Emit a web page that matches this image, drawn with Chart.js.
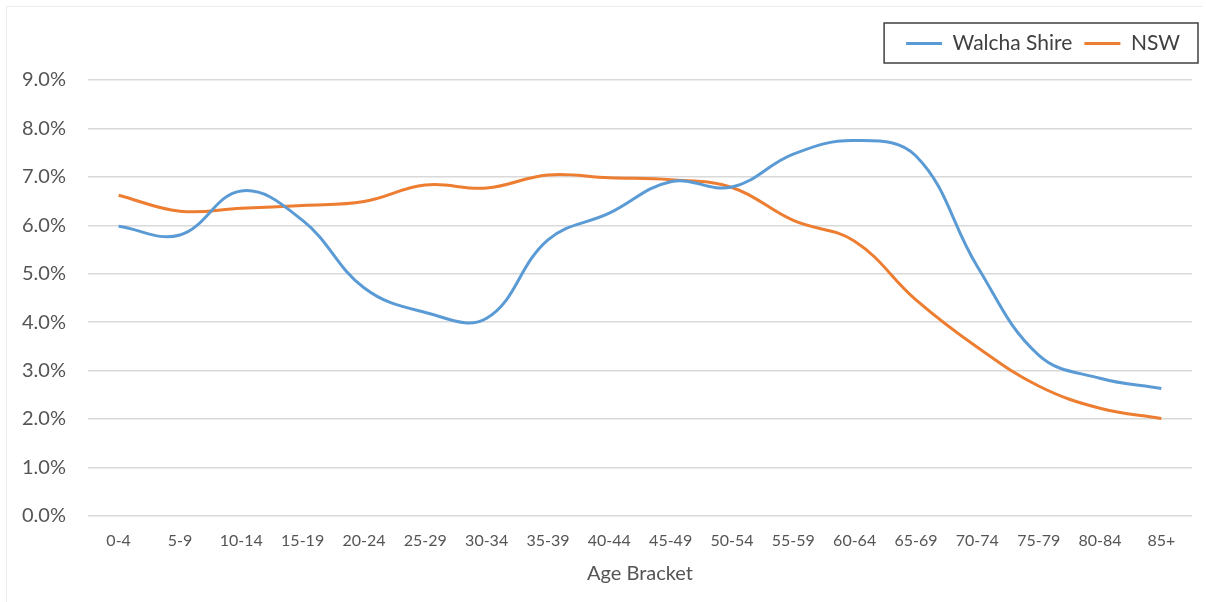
<!DOCTYPE html>
<html lang="en">
  <head>
    <meta charset="UTF-8" />
    <title>Age profile - Walcha Shire vs NSW</title>
    <script src="https://cdn.jsdelivr.net/npm/chart.js"></script>
    <style>
      html,
      body {
        margin: 0;
        padding: 0;
        background: #ffffff;
      }
      .moldura {
        position: relative;
        width: 1206px;
        height: 602px;
      }
      .moldura .borda {
        position: absolute;
        left: 6px;
        top: 6px;
        right: 4px;
        bottom: 0;
        border-top: 1px solid #ececec;
        border-left: 1px solid #ececec;
        pointer-events: none;
      }
    </style>
  </head>
  <body>
    <div class="moldura">
      <canvas id="graficoIdade" width="1206" height="602"></canvas>
      <div class="borda"></div>
    </div>

    <script>
      // faixas etárias e percentuais da população (%)
      var faixas = [
        "0-4", "5-9", "10-14", "15-19", "20-24", "25-29", "30-34", "35-39", "40-44",
        "45-49", "50-54", "55-59", "60-64", "65-69", "70-74", "75-79", "80-84", "85+",
      ];
      var walcha = [
        5.98, 5.8, 6.71, 6.1, 4.71, 4.2, 4.08, 5.7, 6.25,
        6.9, 6.79, 7.47, 7.75, 7.43, 5.15, 3.32, 2.84, 2.63,
      ];
      var nsw = [
        6.62, 6.29, 6.35, 6.41, 6.49, 6.83, 6.77, 7.04, 6.98,
        6.94, 6.78, 6.1, 5.67, 4.46, 3.48, 2.68, 2.22, 2.01,
      ];
      var ticksY = [0, 1, 2, 3, 4, 5, 6, 7, 8, 9];

      var corTexto = "#555555";
      var fonte = "Lato, 'Open Sans', sans-serif";

      // espaço extra entre a legenda e o gráfico + moldura da legenda
      var bordaLegenda = {
        id: "bordaLegenda",
        afterInit: function (chart) {
          var legenda = chart.legend;
          if (!legenda) return;
          var fitOriginal = legenda.fit;
          legenda.fit = function () {
            fitOriginal.call(this);
            this.height += 16;
          };
        },
        afterDraw: function (chart) {
          var caixas = chart.legend && chart.legend.legendHitBoxes;
          if (!caixas || !caixas.length) return;
          var primeira = caixas[0];
          var ultima = caixas[caixas.length - 1];
          var x0 = primeira.left - 22;
          var x1 = ultima.left + ultima.width + 18;
          var y0 = primeira.top - 10;
          var y1 = primeira.top + primeira.height + 9;
          var ctx = chart.ctx;
          ctx.save();
          ctx.strokeStyle = "#404040";
          ctx.lineWidth = 1.5;
          ctx.strokeRect(x0, y0, x1 - x0, y1 - y0);
          ctx.restore();
        },
      };

      const ctx = document.getElementById("graficoIdade");
      new Chart(ctx, {
        type: "line",
        data: {
          labels: faixas,
          datasets: [
            {
              label: "Walcha Shire",
              data: walcha,
              borderColor: "#5B9BD5",
              backgroundColor: "#5B9BD5",
              borderWidth: 3,
              pointRadius: 0,
              tension: 0.4,
            },
            {
              label: "NSW",
              data: nsw,
              borderColor: "#ED7D31",
              backgroundColor: "#ED7D31",
              borderWidth: 3,
              pointRadius: 0,
              tension: 0.4,
            },
          ],
        },
        options: {
          responsive: false,
          animation: false,
          layout: {
            padding: { top: 21, left: 0, right: 14, bottom: 12 },
          },
          plugins: {
            legend: {
              position: "top",
              align: "end",
              labels: {
                usePointStyle: true,
                pointStyle: "line",
                pointStyleWidth: 36,
                padding: 12,
                color: "#404040",
                font: { family: fonte, size: 21 },
              },
            },
            tooltip: { enabled: false },
          },
          scales: {
            x: {
              offset: true,
              grid: { display: false, drawTicks: false },
              border: { display: false },
              ticks: {
                autoSkip: false,
                maxRotation: 0,
                padding: 15,
                color: corTexto,
                font: { family: fonte, size: 16 },
              },
              title: {
                display: true,
                text: "Age Bracket",
                color: corTexto,
                font: { family: fonte, size: 20 },
                padding: { top: -3, bottom: 4 },
              },
            },
            y: {
              min: 0,
              max: 9,
              afterBuildTicks: function (eixo) {
                eixo.ticks = ticksY.map(function (v) {
                  return { value: v };
                });
              },
              grid: { color: "#d9d9d9", lineWidth: 1.5, drawTicks: false },
              border: { display: false },
              ticks: {
                padding: 22,
                color: corTexto,
                font: { family: fonte, size: 20 },
                callback: function (v) {
                  return Number(v).toFixed(1) + "%";
                },
              },
            },
          },
        },
        plugins: [bordaLegenda],
      });
    </script>
  </body>
</html>
